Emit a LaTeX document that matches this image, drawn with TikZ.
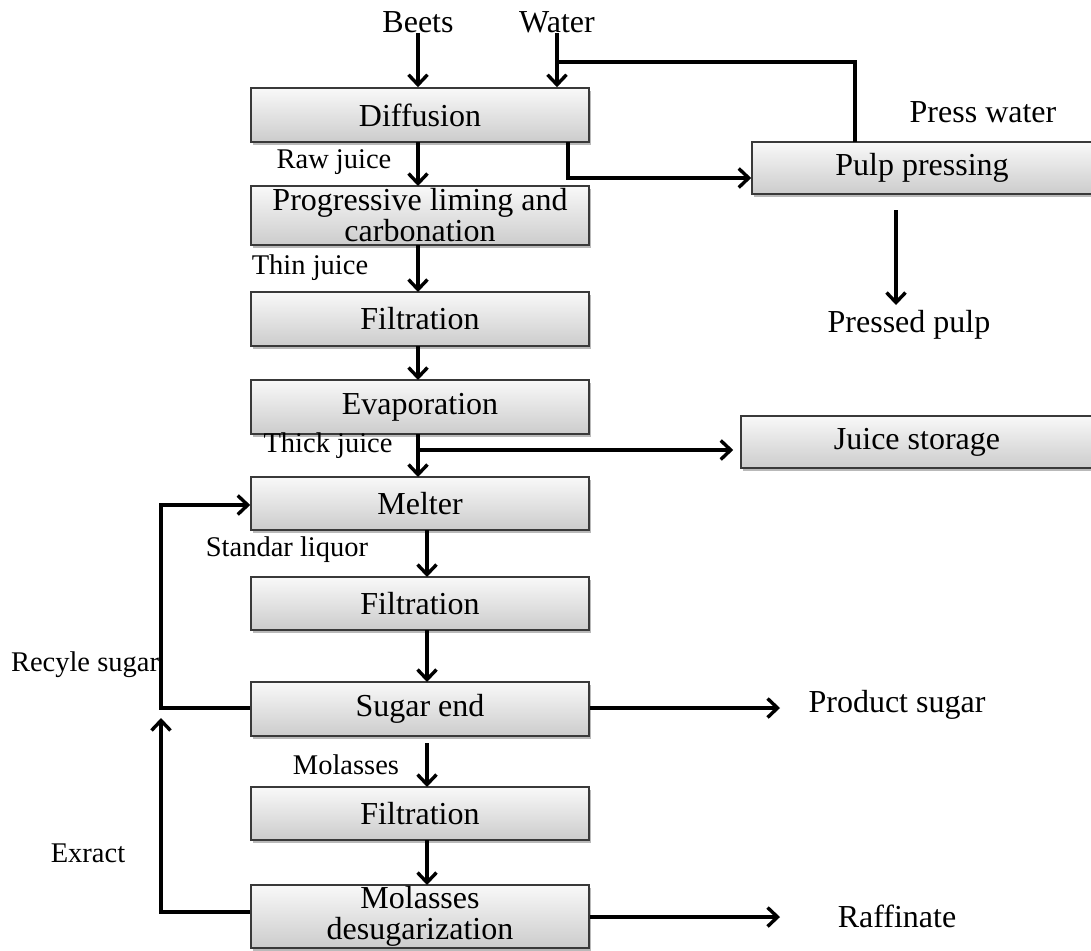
\documentclass[tikz,border=0pt]{standalone}
\usepackage{fontspec}
\setmainfont{Liberation Serif}
\usetikzlibrary{arrows.meta,calc,shadows}
\begin{document}
\begin{tikzpicture}[x=1pt,y=-1pt,
  bigf/.style={font=\fontsize{32}{31}\selectfont},
  smallf/.style={font=\fontsize{28.5}{30}\selectfont},
  box/.style={draw=gray!45!black, line width=1.6pt, top color=gray!5, bottom color=gray!40,
    minimum width=338pt, minimum height=54pt, inner sep=0pt, align=center, bigf,
    drop shadow={shadow xshift=1.5pt, shadow yshift=-2.5pt, fill=gray!60, opacity=0.9}},
  lbl/.style={inner sep=0pt, bigf},
  slbl/.style={inner sep=0pt, smallf},
  flow/.style={line width=3.6pt, -{Straight Barb[length=10pt,width=19pt,line width=3.4pt]}},
  pipe/.style={line width=3.6pt}
]
\useasboundingbox (0,0) rectangle (1091,950);
\fill[white] (0,0) rectangle (1091,950);

% process boxes
\node[box] (diff)  at (420,115)   {Diffusion};
\node[box, minimum height=59pt] (lime) at (420,215.5) {Progressive liming and\\carbonation};
\node[box] (filt1) at (420,319)   {Filtration};
\node[box] (evap)  at (420,407)   {Evaporation};
\node[box, minimum height=53pt] (melt)  at (420,503.5) {Melter};
\node[box, minimum height=53pt] (filt2) at (420,603.5) {Filtration};
\node[box] (sugar) at (420,709)   {Sugar end};
\node[box, minimum height=53pt] (filt3) at (420,813.5) {Filtration};
\node[box, minimum height=63pt] (molas) at (420,916.5) {Molasses\\desugarization};
\node[box, minimum width=340pt, minimum height=52pt] (pulp) at (922,168) {Pulp pressing};
\node[box, minimum width=352pt, minimum height=52pt] (juice) at (917,442) {Juice storage};

% outer labels
\node[lbl] (beets) at (418,22) {Beets};
\node[lbl] (water) at (557,22) {Water};
\node[lbl] (presw) at (983,112) {Press water};
\node[lbl] (prpulp) at (909,325) {Pressed pulp};
\node[lbl] (prod) at (897,705) {Product sugar};
\node[lbl] (raff) at (897,916) {Raffinate};

% stream labels
\node[slbl] (raw) at (334,162) {Raw juice};
\node[slbl] (thin) at (310,268) {Thin juice};
\node[slbl] (thick) at (328,446) {Thick juice};
\node[slbl] (std) at (287,550) {Standar liquor};
\node[slbl] (recy) at (85,665) {Recyle sugar};
\node[slbl] (molt) at (346,765) {Molasses};
\node[slbl] (exr) at (88,853) {Exract};

% helper coordinates
\coordinate (wj) at (557,62);
\coordinate (pwt) at (855,142);
\coordinate (db) at (568,142);
\coordinate (dbc) at (568,178);
\coordinate (tj) at (418,450);
\coordinate (rl) at (161,708);
\coordinate (rt) at (161,505);
\coordinate (el) at (161,912);
\coordinate (et) at (161,718);
\coordinate (pps) at (896,210);
\coordinate (ppe) at (896,305);
\coordinate (prs) at (780,708);
\coordinate (raf) at (780,917);

% main connectors
\draw[flow] (beets.south) -- (beets.south |- diff.north);
\draw[flow] (water.south) -- (water.south |- diff.north);
\draw[pipe] (pwt) |- (wj);
\draw[flow] (db) -- (dbc) -- (dbc -| pulp.west);
\draw[flow] (418,142) -- (418,186);
\draw[flow] (418,245) -- (418,292);
\draw[flow] (418,346) -- (418,380);
\draw[flow] (418,434) -- (418,477);
\draw[flow] (tj) -- ($(tj -| juice.west)+(-7,0)$);
\draw[flow] (427,530) -- (427,577);
\draw[flow] (427,630) -- (427,682);
\draw[flow] (427,743) -- (427,787);
\draw[flow] (427,840) -- (427,885);
\draw[flow] (sugar.west |- rl) -- (rl) -- (rt) -- (rt -| melt.west);
\draw[flow] (molas.west |- el) -- (el) -- (et);
\draw[flow] (sugar.east |- prs) -- (prs);
\draw[flow] (molas.east |- raf) -- (raf);
\draw[flow] (pps) -- (ppe);
\end{tikzpicture}
\end{document}
